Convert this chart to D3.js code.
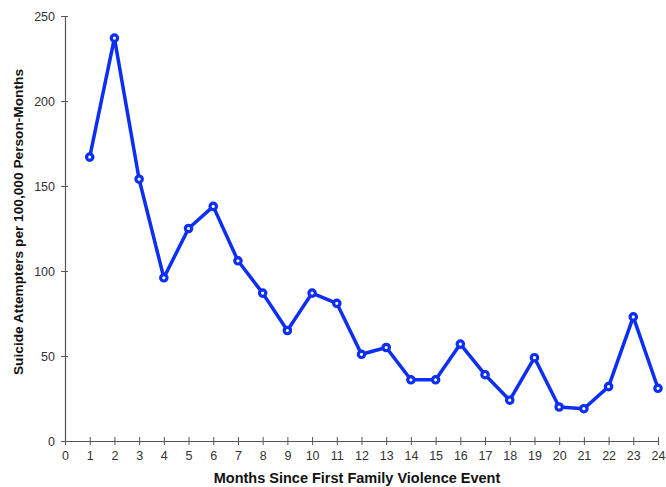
<!DOCTYPE html>
<html>
<head>
<meta charset="utf-8">
<script src="https://cdn.jsdelivr.net/npm/d3@7"></script>
<style>
  body { margin: 0; background: #fff; }
  text { font-family: "Liberation Sans", Arial, sans-serif; }
</style>
</head>
<body>
<div id="chart"></div>
<script>
// Data ///////////////////////////////////////////////////////////////////
const months = [1, 2, 3, 4, 5, 6, 7, 8, 9, 10, 11, 12,
                13, 14, 15, 16, 17, 18, 19, 20, 21, 22, 23, 24];
const attempters = [167, 237, 154, 96, 125, 138, 106, 87, 65, 87, 81, 51,
                    55, 36, 36, 57, 39, 24, 49, 20, 19, 32, 73, 31];
const xTicks = d3.range(0, 25);
const yTicks = [0, 50, 100, 150, 200, 250];

// Chart //////////////////////////////////////////////////////////////////
const width = 666, height = 487;
const margin = {top: 16, right: 8, bottom: 46, left: 65};
const innerW = width - margin.left - margin.right;
const innerH = height - margin.top - margin.bottom;

const svg = d3.select('#chart').append('svg')
  .attr('width', width)
  .attr('height', height);

const g = svg.append('g')
  .attr('transform', `translate(${margin.left},${margin.top})`);

const x = d3.scaleLinear().domain([0, 24]).range([0, 593]);
const y = d3.scaleLinear().domain([0, 250]).range([innerH, 0]);

// axes, ticks cross the axis line
const xAxis = g.append('g')
  .attr('transform', `translate(0,${innerH})`)
  .call(d3.axisBottom(x).tickValues(xTicks).tickSize(0).tickPadding(10).tickFormat(d3.format('d')));
xAxis.selectAll('.tick').append('line')
  .attr('y1', -4).attr('y2', 4).attr('stroke', '#555');

const yAxis = g.append('g')
  .call(d3.axisLeft(y).tickValues(yTicks).tickSize(0).tickPadding(10));
yAxis.selectAll('.tick').append('line')
  .attr('x1', -4).attr('x2', 3).attr('stroke', '#555');

g.selectAll('.domain').attr('stroke', '#555').attr('stroke-width', 1.2);
g.selectAll('.tick text')
  .attr('fill', '#333')
  .style('font-size', '12.5px');

// axis titles
svg.append('text')
  .attr('x', margin.left + 292)
  .attr('y', 483)
  .attr('text-anchor', 'middle')
  .style('font-size', '14.5px')
  .style('font-weight', 'bold')
  .attr('fill', '#111')
  .text('Months Since First Family Violence Event');

svg.append('text')
  .attr('transform', 'rotate(-90)')
  .attr('x', -222)
  .attr('y', 23)
  .attr('text-anchor', 'middle')
  .style('font-size', '13.7px')
  .style('font-weight', 'bold')
  .attr('fill', '#111')
  .text('Suicide Attempters per 100,000 Person-Months');

// line and markers
const points = months.map((m, i) => ({month: m, value: attempters[i]}));

g.append('path')
  .datum(points)
  .attr('fill', 'none')
  .attr('stroke', '#0d2ef5')
  .attr('stroke-width', 3.5)
  .attr('stroke-linejoin', 'round')
  .attr('d', d3.line().x(d => x(d.month)).y(d => y(d.value)));

g.selectAll('.marker')
  .data(points)
  .enter().append('circle')
  .attr('class', 'marker')
  .attr('cx', d => x(d.month))
  .attr('cy', d => y(d.value))
  .attr('r', 3.2)
  .attr('fill', '#fff')
  .attr('stroke', '#0d2ef5')
  .attr('stroke-width', 3.2);
</script>
</body>
</html>
